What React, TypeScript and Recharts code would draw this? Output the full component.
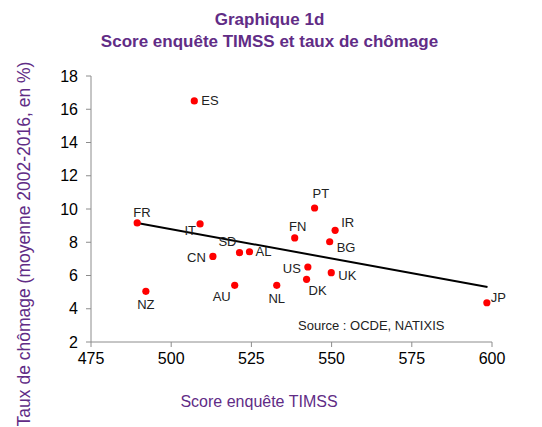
import { ScatterChart, Scatter, XAxis, YAxis, ReferenceLine, LabelList } from 'recharts';

// countries, TIMSS score and unemployment rate
const countries = ['ES', 'FR', 'IT', 'CN', 'SD', 'AL', 'NZ', 'AU', 'NL', 'FN', 'PT', 'IR', 'BG', 'US', 'DK', 'UK', 'JP'];
const scores = [507.2, 489.4, 509, 513, 521.3, 524.4, 492.1, 519.8, 532.9, 538.5, 544.7, 551.1, 549.4, 542.6, 542.2, 549.9, 598.4];
const unemployment = [16.5, 9.16, 9.1, 7.15, 7.37, 7.43, 5.05, 5.41, 5.41, 8.26, 10.06, 8.72, 8.03, 6.51, 5.77, 6.17, 4.36];

// trend line end points
const trendX = [489.4, 598.6];
const trendY = [9.16, 5.31];

const xTicks = [475, 500, 525, 550, 575, 600];
const yTicks = [2, 4, 6, 8, 10, 12, 14, 16, 18];

const purple = '#612c86';
const font = '"Liberation Sans", Arial, sans-serif';

// where each label sits relative to its dot
const labelPos: Record<string, [number, number, string]> = {
  ES: [7, 0, 'start'],
  FR: [-4, -11, 'start'],
  IT: [-4, 6, 'end'],
  CN: [-7, 1, 'end'],
  SD: [-3, -11, 'end'],
  AL: [6, 0, 'start'],
  NZ: [0, 13, 'middle'],
  AU: [-4, 11, 'end'],
  NL: [0, 13, 'middle'],
  FN: [3, -11, 'middle'],
  PT: [-2, -15, 'start'],
  IR: [6, -8, 'start'],
  BG: [7, 6, 'start'],
  US: [-7, 1, 'end'],
  DK: [2, 11, 'start'],
  UK: [7, 3, 'start'],
  JP: [4, -5, 'start'],
};

const points = countries.map((name, i) => ({ name, x: scores[i], y: unemployment[i] }));

const renderLabel = (props: any) => {
  const { x, y, width, height, value } = props;
  const cx = x + width / 2;
  const cy = y + height / 2;
  const [dx, dy, anchor] = labelPos[value] || [6, 0, 'start'];
  return (
    <text x={cx + dx} y={cy + dy} dy="0.35em" textAnchor={anchor} fontSize={13} fill="#222" fontFamily={font}>
      {value}
    </text>
  );
};

const renderDot = (props: any) => <circle cx={props.cx} cy={props.cy} r={3.6} fill="#ff0000" />;

const xLabel = () => (
  <text x={259} y={401} dy="0.35em" textAnchor="middle" fontSize={16} fill={purple} fontFamily={font}>
    Score enquête TIMSS
  </text>
);

const yLabel = () => (
  <text x={24} y={244} dy="0.35em" textAnchor="middle" fontSize={17.5} fill={purple} fontFamily={font} transform="rotate(-90 24 244)">
    Taux de chômage (moyenne 2002-2016, en %)
  </text>
);

export default function App() {
  return (
    <div style={{ position: 'absolute', left: 0, top: 0, width: 542, height: 427, background: '#fff', fontFamily: font }}>
      <div style={{ position: 'absolute', left: 0, top: 9, width: 539, textAlign: 'center', color: purple, fontWeight: 'bold', fontSize: 17, lineHeight: '22px' }}>
        Graphique 1d
        <br />
        Score enquête TIMSS et taux de chômage
      </div>
      <ScatterChart width={542} height={427} margin={{ top: 76, right: 50, bottom: 0, left: 0 }}>
        <XAxis
          type="number"
          dataKey="x"
          domain={[475, 600]}
          ticks={xTicks}
          height={85}
          tickSize={5}
          tickMargin={6}
          stroke="#8c8c8c"
          tick={{ fill: '#000', fontSize: 16, fontFamily: font }}
          label={xLabel}
        />
        <YAxis
          type="number"
          dataKey="y"
          domain={[2, 18]}
          ticks={yTicks}
          width={91}
          tickSize={5}
          tickMargin={8}
          stroke="#8c8c8c"
          tick={{ fill: '#000', fontSize: 16, fontFamily: font }}
          label={yLabel}
        />
        <ReferenceLine
          segment={[{ x: trendX[0], y: trendY[0] }, { x: trendX[1], y: trendY[1] }]}
          stroke="#000"
          strokeWidth={2}
          ifOverflow="visible"
        />
        <Scatter data={points} shape={renderDot} isAnimationActive={false}>
          <LabelList dataKey="name" content={renderLabel} />
        </Scatter>
      </ScatterChart>
      <div style={{ position: 'absolute', left: 298, top: 318, fontSize: 13, color: '#222' }}>Source : OCDE, NATIXIS</div>
    </div>
  );
}
